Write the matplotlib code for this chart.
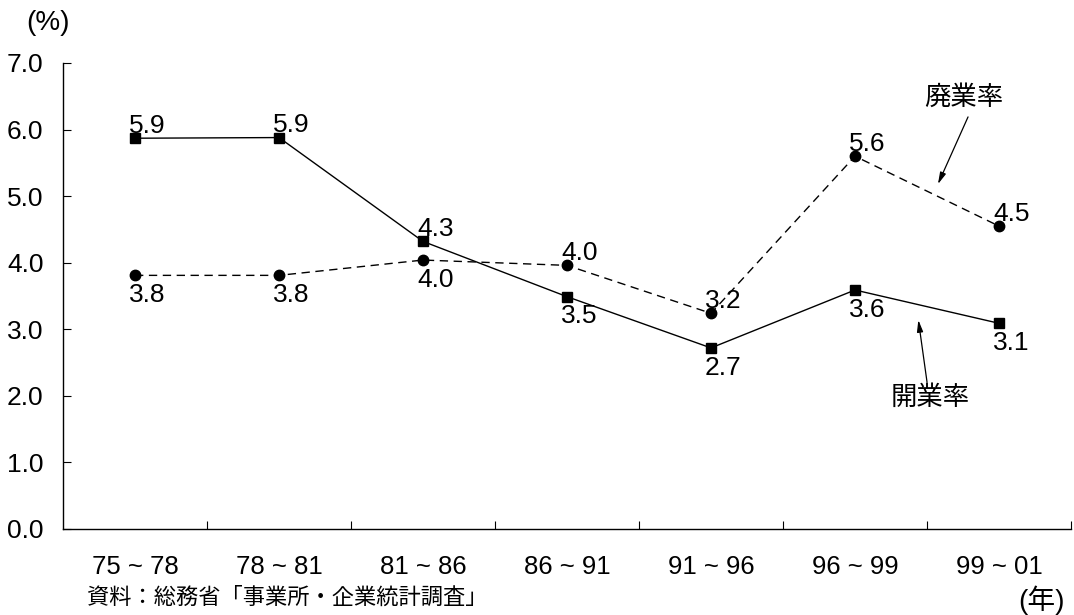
import matplotlib
matplotlib.use("Agg")
import matplotlib.pyplot as plt
from matplotlib.ticker import FixedLocator

plt.rcParams["font.family"] = ["Liberation Sans", "Noto Sans CJK JP"]

# Survey periods (years) and rates (%)
periods = ["75 ~ 78", "78 ~ 81", "81 ~ 86", "86 ~ 91", "91 ~ 96", "96 ~ 99", "99 ~ 01"]
opening_rate = [5.87, 5.88, 4.32, 3.49, 2.72, 3.59, 3.09]   # 開業率
closure_rate = [3.81, 3.81, 4.04, 3.96, 3.24, 5.60, 4.55]   # 廃業率
y_ticks = [0.0, 1.0, 2.0, 3.0, 4.0, 5.0, 6.0, 7.0]

# Which side of the marker each value label sits on
opening_label_above = [True, True, True, False, False, False, False]
closure_label_above = [False, False, False, True, True, True, True]

fig = plt.figure(figsize=(10.74, 6.15), dpi=100)
ax = fig.add_axes([63 / 1074, 86 / 615, 1008 / 1074, 466 / 615])

x = list(range(len(periods)))
ax.plot(x, opening_rate, color="black", lw=1.0, marker="s", ms=7.5,
        markerfacecolor="black", markeredgecolor="black", zorder=3)
ax.plot(x, closure_rate, color="black", lw=1.0, linestyle=(0, (6, 4)),
        marker="o", ms=7.5, markerfacecolor="black", markeredgecolor="black",
        zorder=3)


def value_labels(values, above_flags):
    for xi, v, above in zip(x, values, above_flags):
        if above:
            ax.annotate(f"{v:.1f}", (xi, v), xytext=(-4.3, 4.0),
                        textcoords="offset points", ha="left", va="baseline",
                        fontsize=19)
        else:
            ax.annotate(f"{v:.1f}", (xi, v), xytext=(-4.3, -5.5),
                        textcoords="offset points", ha="left", va="top",
                        fontsize=19)


value_labels(opening_rate, opening_label_above)
value_labels(closure_rate, closure_label_above)

# Series names with pointer arrows
arrow_style = dict(arrowstyle="-|>,head_length=0.7,head_width=0.18",
                   color="black", lw=0.9, shrinkA=0, shrinkB=0)
ax.text(5.757, 6.49, "廃業率", ha="center", va="center", fontsize=19)
ax.annotate("", xy=(5.576, 5.18), xytext=(5.785, 6.19), arrowprops=arrow_style)
ax.text(5.52, 1.97, "開業率", ha="center", va="center", fontsize=19)
ax.annotate("", xy=(5.44, 3.14), xytext=(5.5, 2.21), arrowprops=arrow_style)

# Axes
ax.set_xlim(-0.5, len(periods) - 0.5)
ax.set_ylim(y_ticks[0], y_ticks[-1])
ax.set_yticks(y_ticks)
ax.set_yticklabels([f"{t:.1f}" for t in y_ticks], fontsize=19)
ax.set_xticks(x)
ax.set_xticklabels(periods, fontsize=18.5)
ax.xaxis.set_minor_locator(FixedLocator([i + 0.5 for i in range(len(periods))]))

for s in ("top", "right"):
    ax.spines[s].set_visible(False)
for s in ("left", "bottom"):
    ax.spines[s].set_linewidth(1.0)

ax.tick_params(axis="y", direction="in", length=6, width=0.8, pad=14)
ax.tick_params(axis="x", which="major", length=0, pad=19)
ax.tick_params(axis="x", which="minor", direction="in", length=6, width=0.8)

fig.text(48 / 1074, 1 - 23 / 615, "(%)", ha="center", va="center", fontsize=20)
fig.text(1042 / 1074, 1 - 600 / 615, "(年)", ha="center", va="center", fontsize=20)
fig.text(87 / 1074, 1 - 598 / 615, "資料：総務省「事業所・企業統計調査」",
         ha="left", va="center", fontsize=16)

fig.savefig("out.png", dpi=100)
